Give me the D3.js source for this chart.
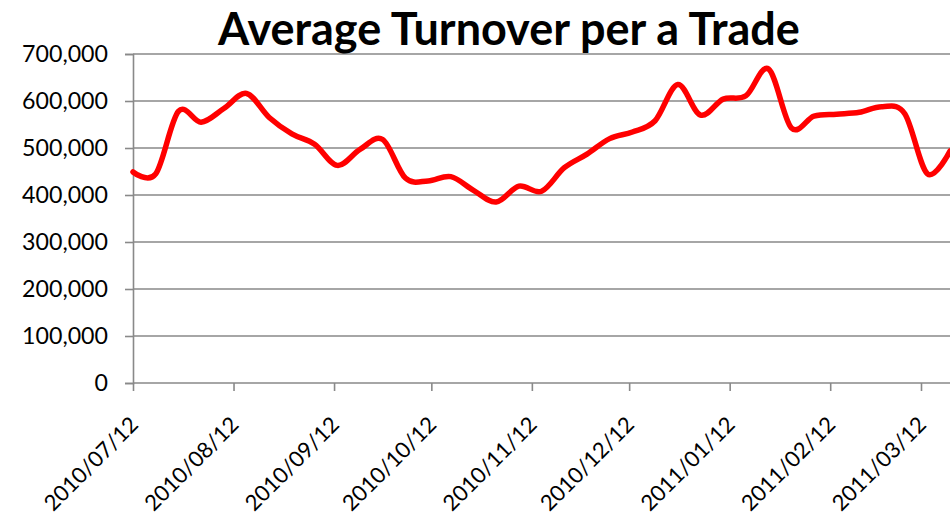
<!DOCTYPE html>
<html>
<head>
<meta charset="utf-8">
<script src="https://cdn.jsdelivr.net/npm/d3@7"></script>
<style>
  html, body { margin: 0; padding: 0; background: #fff; }
  svg { display: block; }
</style>
</head>
<body>
<svg id="chart" width="950" height="520"></svg>
<script>
// ---- data ----
const titleText = "Average Turnover per a Trade";
const dates = [
  "2010-07-12","2010-07-19","2010-07-26","2010-08-02","2010-08-09","2010-08-16","2010-08-23","2010-08-30",
  "2010-09-06","2010-09-13","2010-09-20","2010-09-27","2010-10-04","2010-10-11","2010-10-18","2010-10-25",
  "2010-11-01","2010-11-08","2010-11-15","2010-11-22","2010-11-29","2010-12-06","2010-12-13","2010-12-20",
  "2010-12-27","2011-01-03","2011-01-10","2011-01-17","2011-01-24","2011-01-31","2011-02-07","2011-02-14",
  "2011-02-21","2011-02-28","2011-03-07","2011-03-14","2011-03-21"
];
const turnover = [
  449000, 445000, 578000, 555000, 584000, 616000, 565000, 530000,
  508000, 463000, 497000, 518000, 436000, 430000, 439000, 410000,
  385000, 419000, 408000, 458000, 487000, 520000, 534000, 558000,
  635000, 570000, 604000, 611000, 668000, 543000, 568000, 572000,
  576000, 588000, 573000, 445000, 494000
];
const xTickDates = ["2010-07-12","2010-08-12","2010-09-12","2010-10-12","2010-11-12","2010-12-12","2011-01-12","2011-02-12","2011-03-12"];
const yTicks = [0, 100000, 200000, 300000, 400000, 500000, 600000, 700000];

// ---- layout ----
const W = 950, H = 520;
const plotLeft = 133, plotTop = 54, plotBottom = 383;
const fontFamily = "Lato, 'Open Sans', sans-serif";
const gridColor = "#898989";

const svg = d3.select("#chart");
const parse = d3.utcParse("%Y-%m-%d");
const data = dates.map((d, i) => ({ date: parse(d), value: turnover[i] }));
const tickDates = xTickDates.map(parse);

const x = d3.scaleUtc()
  .domain([tickDates[0], tickDates[tickDates.length - 1]])
  .range([plotLeft, 921]);
const xEnd = x(parse("2011-03-25"));
const y = d3.scaleLinear().domain([0, 700000]).range([plotBottom, plotTop]);

// helper to fit font size to a target width
function fitSize(text, weight, targetWidth) {
  const t = svg.append("text").attr("font-family", fontFamily).attr("font-weight", weight)
    .attr("font-size", 100).text(text);
  const w = t.node().getComputedTextLength();
  t.remove();
  return 100 * targetWidth / w;
}

// gridlines
svg.append("g").selectAll("line").data(yTicks.slice(1)).join("line")
  .attr("x1", plotLeft).attr("x2", xEnd)
  .attr("y1", d => y(d)).attr("y2", d => y(d))
  .attr("stroke", gridColor).attr("stroke-width", 1.6);

// y axis
const ySize = fitSize("700,000", 400, 86);
const yAxis = svg.append("g").attr("transform", `translate(${plotLeft},0)`)
  .call(d3.axisLeft(y).tickValues(yTicks).tickFormat(d3.format(",")).tickSize(8).tickPadding(17));
yAxis.select(".domain").attr("stroke", gridColor).attr("stroke-width", 1.6);
yAxis.selectAll(".tick line").attr("stroke", gridColor).attr("stroke-width", 1.6);
yAxis.selectAll(".tick text").attr("font-family", fontFamily).attr("font-size", ySize)
  .attr("fill", "#000").attr("dy", "0.34em");

// x axis
const xSize = fitSize("2010/08/12", 400, 122);
const xAxis = svg.append("g").attr("transform", `translate(0,${plotBottom})`)
  .call(d3.axisBottom(x).tickValues(tickDates).tickFormat(d3.utcFormat("%Y/%m/%d")).tickSize(8).tickSizeOuter(0));
xAxis.select(".domain").attr("d", `M${plotLeft},0H${xEnd}`).attr("stroke", gridColor).attr("stroke-width", 1.6);
xAxis.selectAll(".tick line").attr("stroke", gridColor).attr("stroke-width", 1.6);
xAxis.selectAll(".tick text")
  .attr("font-family", fontFamily).attr("font-size", xSize).attr("fill", "#000")
  .attr("text-anchor", "end").attr("dy", 0)
  .attr("transform", "translate(6,43) rotate(-45)")
  .attr("y", 0).attr("x", 0);

// line
const line = d3.line().x(d => x(d.date)).y(d => y(d.value)).curve(d3.curveCardinal.tension(0));
svg.append("path").datum(data)
  .attr("d", line).attr("fill", "none")
  .attr("stroke", "#ff0000").attr("stroke-width", 5.5)
  .attr("stroke-linejoin", "round").attr("stroke-linecap", "round");

// title
const tSize = fitSize(titleText, 700, 582);
svg.append("text").attr("x", 509).attr("y", 45)
  .attr("text-anchor", "middle").attr("font-family", fontFamily)
  .attr("font-weight", 700).attr("font-size", tSize).attr("fill", "#000")
  .text(titleText);
</script>
</body>
</html>
